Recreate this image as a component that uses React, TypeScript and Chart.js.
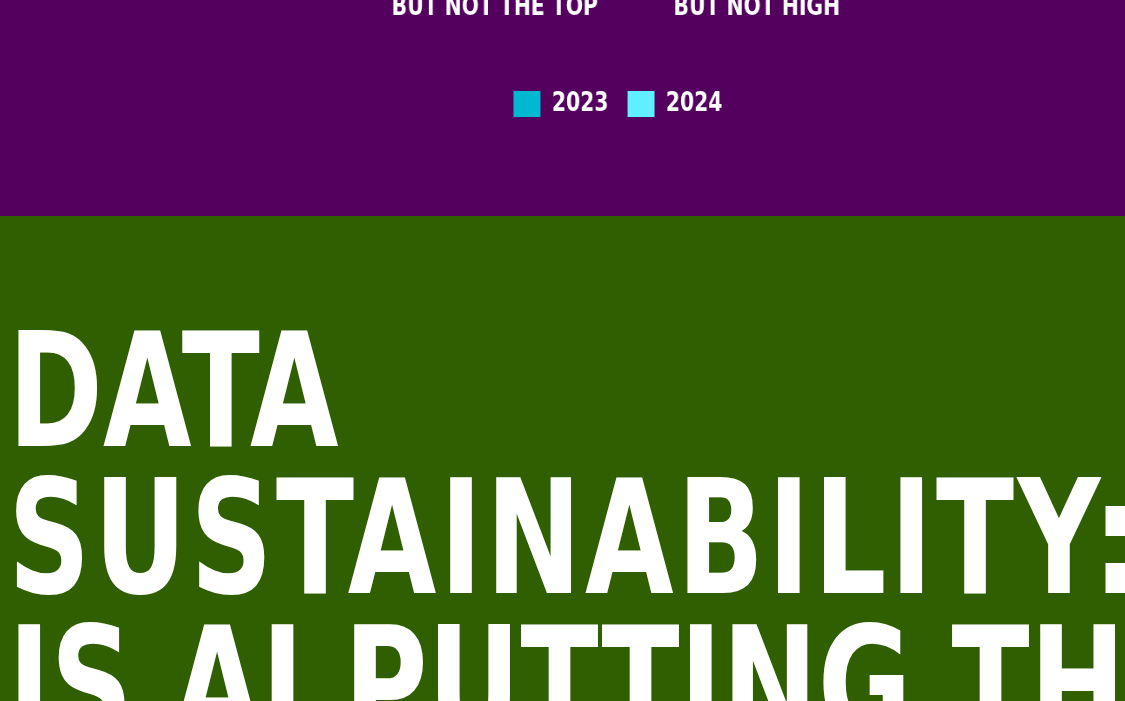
import React, { useEffect, useRef } from "react";
import { Chart, registerables } from "chart.js";

Chart.register(...registerables);

// ---- data ----
const categories: string[][] = [
  ["TOP PRIORITY"],
  ["A HIGH PRIORITY,", "BUT NOT THE TOP"],
  ["A PRIORITY,", "BUT NOT HIGH"],
  ["NOT A PRIORITY"],
];
const seriesLabels = ["2023", "2024"];
const values2023 = [22, 41, 26, 11];
const values2024 = [29, 38, 23, 10];
const headingLines = ["DATA", "SUSTAINABILITY:", "IS AI PUTTING THE"];
const headingSpacing = [0, 4.3, 0];

// ---- styles ----
const PURPLE = "#53005E";
const GREEN = "#2F5F00";
const COLOR_2023 = "#00B9D0";
const COLOR_2024 = "#60EFFF";
const FONT = "'DejaVu Sans Condensed', 'DejaVu Sans', sans-serif";
const SQUEEZE = 0.87; // horizontal condensing of the chart canvas
const CANVAS_W = 1223;
const CANVAS_H = 500;

export default function App() {
  const canvasRef = useRef<HTMLCanvasElement>(null);

  useEffect(() => {
    const chart = new Chart(canvasRef.current!, {
      type: "bar",
      data: {
        labels: categories,
        datasets: [
          { label: seriesLabels[0], data: values2023, backgroundColor: COLOR_2023, borderWidth: 0 },
          { label: seriesLabels[1], data: values2024, backgroundColor: COLOR_2024, borderWidth: 0 },
        ],
      },
      options: {
        animation: false,
        responsive: false,
        maintainAspectRatio: false,
        layout: { padding: { bottom: 89 } },
        plugins: {
          legend: {
            position: "bottom",
            labels: {
              color: "#ffffff",
              font: { family: FONT, size: 26, weight: "bold" },
              boxWidth: 31,
              boxHeight: 26,
              padding: 22,
            },
          },
          tooltip: { enabled: false },
        },
        scales: {
          x: {
            grid: { display: false },
            border: { display: false },
            ticks: {
              color: "#ffffff",
              font: { family: FONT, size: 26, weight: "bold" },
              maxRotation: 0,
              autoSkip: false,
            },
            afterFit: (s: any) => {
              s.height += 42;
            },
          },
          y: {
            beginAtZero: true,
            grid: { display: false },
            border: { display: false },
            ticks: { display: false },
            afterFit: (s: any) => {
              s.width = 18;
            },
          },
        },
      },
    });
    return () => chart.destroy();
  }, []);

  return (
    <div
      style={{
        position: "fixed",
        left: 0,
        top: 0,
        width: 1125,
        height: 701,
        overflow: "hidden",
        background: GREEN,
      }}
    >
      <div
        style={{
          position: "absolute",
          left: 0,
          top: 0,
          width: 1125,
          height: 216,
          background: PURPLE,
          overflow: "hidden",
        }}
      >
        <canvas
          ref={canvasRef}
          width={CANVAS_W}
          height={CANVAS_H}
          style={{
            position: "absolute",
            left: 86,
            top: 216 - CANVAS_H,
            width: CANVAS_W * SQUEEZE,
            height: CANVAS_H,
          }}
        />
      </div>
      <div
        style={{
          position: "absolute",
          left: 8,
          top: 317,
          color: "#ffffff",
          fontFamily: FONT,
          fontWeight: 700,
          fontSize: 159,
          lineHeight: "147px",
          whiteSpace: "nowrap",
          transform: "scaleX(0.8)",
          transformOrigin: "0 0",
        }}
      >
        {headingLines.map((l, i) => (
          <div key={i} style={{ letterSpacing: headingSpacing[i] }}>
            {l}
          </div>
        ))}
      </div>
    </div>
  );
}
